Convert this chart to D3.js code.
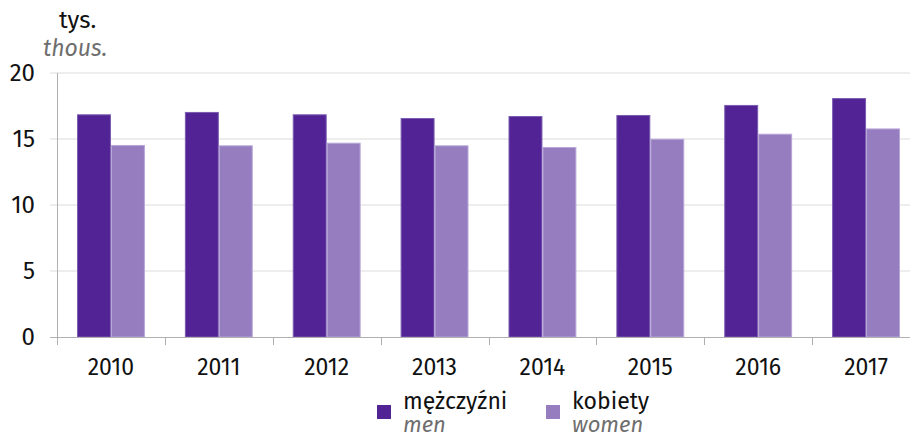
<!DOCTYPE html>
<html><head><meta charset="utf-8">
<script src="https://cdn.jsdelivr.net/npm/d3@7"></script>
<style>body{margin:0;background:#fff}svg{display:block;font-family:"Fira Sans","Open Sans","Noto Sans",sans-serif}</style>
</head><body><svg id="c" width="910" height="435"></svg>
<script>
const years = ["2010","2011","2012","2013","2014","2015","2016","2017"];
const men = [16.87, 17.05, 16.87, 16.59, 16.74, 16.82, 17.58, 18.1];
const women = [14.55, 14.52, 14.72, 14.52, 14.39, 15.02, 15.4, 15.8];
const yTicks = [0, 5, 10, 15, 20];
const seriesNames = [["mężczyźni","men"],["kobiety","women"]];
const colors = ["#512395", "#957dbf"];
const strokes = ["#7a5cb0", "#b8a6d8"];

const svg = d3.select("#c");
const x = d3.scaleBand().domain(years).range([57, 920]).paddingInner(0).paddingOuter(0);
const y = d3.scaleLinear().domain([0, 20]).range([337, 73]);
const inner = d3.scaleBand().domain([0,1]).range([20, x.bandwidth()-20]);

svg.append("g").selectAll("line").data(yTicks.filter(d=>d>0)).join("line")
  .attr("x1", 50).attr("x2", 910).attr("y1", d=>y(d)).attr("y2", d=>y(d))
  .attr("stroke", "#dcdcdc").attr("stroke-width", 1);

svg.append("g").selectAll("text").data(yTicks).join("text")
  .attr("x", 35).attr("y", d=>y(d)+8).attr("text-anchor","end")
  .attr("font-size", 24).attr("fill","#111").text(d=>d);

const groups = svg.append("g").selectAll("g").data(years).join("g")
  .attr("transform", d=>`translate(${x(d)},0)`);
[men, women].forEach((vals, si)=>{
  groups.append("rect")
    .attr("x", inner(si)+0.5).attr("width", inner.bandwidth()-1)
    .attr("y", (d,i)=>y(vals[i])+0.5).attr("height", (d,i)=>y(0)-y(vals[i])-0.5)
    .attr("fill", colors[si]).attr("stroke", strokes[si]).attr("stroke-width", 1);
});

svg.append("line").attr("x1", 57.5).attr("x2", 57.5).attr("y1", 73).attr("y2", 345)
  .attr("stroke","#b0b0b0");
svg.append("line").attr("x1", 50).attr("x2", 910).attr("y1", 337.5).attr("y2", 337.5)
  .attr("stroke","#b0b0b0");
const xticks = years.map(d=>x(d)).concat([x.range()[1]]);
svg.append("g").selectAll("line").data(xticks).join("line")
  .attr("x1", d=>Math.round(d)+0.5).attr("x2", d=>Math.round(d)+0.5).attr("y1", 337).attr("y2", 345)
  .attr("stroke","#b0b0b0");

svg.append("g").selectAll("text").data(years).join("text")
  .attr("x", d=>x(d)+x.bandwidth()/2).attr("y", 375).attr("text-anchor","middle")
  .attr("font-size", 23).attr("fill","#111").text(d=>d);

svg.append("text").attr("x", 59).attr("y", 28).attr("font-size", 24).attr("fill","#111").text("tys.");
svg.append("text").attr("x", 43).attr("y", 56).attr("font-size", 23).attr("font-style","italic").attr("fill","#6e6e6e").text("thous.");

const legX = [377, 546];
seriesNames.forEach((n, i)=>{
  svg.append("rect").attr("x", legX[i]).attr("y", 405).attr("width", 14).attr("height", 14).attr("fill", colors[i]);
  svg.append("text").attr("x", legX[i]+26).attr("y", 409).attr("font-size", 23).attr("fill","#111").text(n[0]);
  svg.append("text").attr("x", legX[i]+26).attr("y", 432).attr("font-size", 22).attr("font-style","italic").attr("fill","#6e6e6e").text(n[1]);
});
</script></body></html>
